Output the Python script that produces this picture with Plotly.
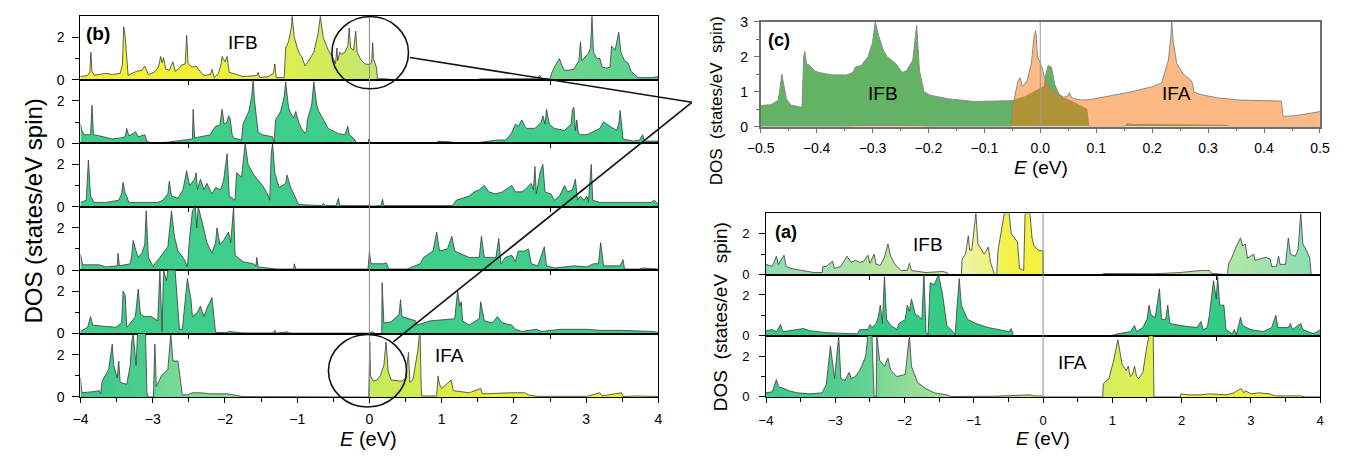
import plotly.graph_objects as go

# ---------------- data (E in eV, DOS in states/eV spin) ----------------
# panel (b): six stacked layers, top (IFB) to bottom (IFA)
B1 = [(-4.00,0.15),(-3.90,0.2),(-3.87,0.35),(-3.855,1.3),(-3.84,0.4),(-3.81,0.22),(-3.74,0.25),(-3.65,0.3),(-3.56,0.25),(-3.45,0.3),(-3.42,0.7),(-3.40,2.5),(-3.38,2.0),(-3.36,1.2),(-3.34,0.2),(-3.29,0.3),(-3.22,0.4),(-3.15,0.45),(-3.11,0.65),(-3.06,0.25),(-2.98,0.35),(-2.92,0.6),(-2.89,1.1),(-2.87,0.8),(-2.85,1.05),(-2.82,0.5),(-2.77,0.45),(-2.72,0.85),(-2.69,0.4),(-2.63,0.55),(-2.60,0.7),(-2.55,0.75),(-2.53,2.1),(-2.51,0.75),(-2.45,0.6),(-2.40,0.65),(-2.36,0.45),(-2.31,0.25),(-2.27,0.2),(-2.20,0.25),(-2.18,0.5),(-2.15,0.1),(-2.09,0.3),(-2.05,0.8),(-2.04,1.1),(-2.00,0.85),(-1.97,1.1),(-1.94,0.35),(-1.84,0.25),(-1.75,0.15),(-1.56,0.2),(-1.54,0.35),(-1.52,0.1),(-1.40,0.15),(-1.33,0.3),(-1.31,0.75),(-1.29,0.1),(-1.18,0.1),(-1.16,1.5),(-1.12,1.8),(-1.08,2.5),(-1.07,3.0),(-1.04,2.0),(-0.98,1.3),(-0.94,1.1),(-0.89,0.65),(-0.86,0.8),(-0.77,1.3),(-0.71,2.2),(-0.68,3.0),(-0.64,2.0),(-0.57,1.4),(-0.50,1.0),(-0.47,0.75),(-0.45,1.5),(-0.44,0.9),(-0.41,1.3),(-0.39,1.2),(-0.34,1.3),(-0.30,1.6),(-0.28,2.45),(-0.26,1.5),(-0.22,1.4),(-0.19,2.3),(-0.17,1.3),(-0.12,0.95),(-0.06,0.75),(0.00,0.72),(0.03,0.8),(0.045,1.75),(0.055,1.0),(0.08,0.7),(0.10,0.55),(0.11,0.05),(0.20,0.05),(0.34,0.0),(1.50,0.0),(1.52,0.04),(2.30,0.05),(2.36,0.2),(2.38,0.05),(2.50,0.05),(2.52,0.3),(2.56,0.6),(2.60,0.8),(2.63,1.0),(2.66,0.7),(2.70,0.45),(2.76,0.45),(2.83,0.5),(2.90,0.9),(2.92,1.8),(2.94,0.9),(2.99,1.1),(3.03,1.25),(3.06,1.5),(3.08,3.0),(3.10,1.3),(3.15,1.0),(3.19,1.0),(3.22,0.6),(3.28,0.55),(3.33,0.6),(3.35,1.6),(3.40,1.4),(3.45,2.25),(3.48,1.3),(3.53,0.9),(3.58,0.8),(3.62,0.4),(3.67,0.25),(3.72,0.1),(3.92,0.1),(4.00,0.15)]
B2 = [(-4.00,0.9),(-3.98,0.6),(-3.95,0.4),(-3.86,0.4),(-3.84,1.8),(-3.82,0.4),(-3.74,0.35),(-3.56,0.2),(-3.45,0.25),(-3.38,0.3),(-3.36,0.7),(-3.33,0.35),(-3.27,0.45),(-3.24,0.55),(-3.20,0.3),(-3.11,0.4),(-3.08,0.1),(-3.02,0.0),(-2.79,0.05),(-2.56,0.15),(-2.45,0.2),(-2.44,1.6),(-2.42,0.25),(-2.20,0.4),(-2.18,0.55),(-2.13,0.8),(-2.07,0.85),(-2.04,1.6),(-2.01,0.9),(-1.97,1.0),(-1.95,1.3),(-1.93,1.2),(-1.90,0.4),(-1.88,0.25),(-1.77,0.15),(-1.75,0.9),(-1.67,1.5),(-1.63,2.2),(-1.61,3.0),(-1.59,2.0),(-1.54,0.5),(-1.48,0.4),(-1.34,0.3),(-1.32,0.0),(-1.30,1.1),(-1.23,1.5),(-1.18,2.2),(-1.16,2.9),(-1.12,1.7),(-1.09,1.4),(-1.05,1.2),(-1.02,1.5),(-0.98,1.0),(-0.94,0.7),(-0.89,0.45),(-0.87,0.6),(-0.86,1.1),(-0.80,1.8),(-0.77,2.9),(-0.73,1.8),(-0.70,1.5),(-0.57,0.7),(-0.43,0.45),(-0.34,0.4),(-0.30,0.8),(-0.28,0.4),(-0.21,0.2),(-0.18,0.0),(-0.02,0.0),(-0.01,0.2),(0.01,0.05),(0.02,0.0),(0.93,0.0),(0.95,0.1),(1.15,0.05),(1.20,0.0),(1.52,0.0),(1.54,0.05),(1.77,0.15),(1.88,0.15),(1.93,0.3),(1.97,0.5),(2.02,0.9),(2.06,0.8),(2.11,1.1),(2.15,0.8),(2.18,0.7),(2.29,0.7),(2.38,1.0),(2.40,1.3),(2.43,0.9),(2.45,1.6),(2.49,0.9),(2.56,0.7),(2.70,0.6),(2.79,0.9),(2.81,1.6),(2.83,1.7),(2.85,0.6),(2.87,1.1),(2.89,0.5),(2.92,0.4),(3.01,0.4),(3.10,0.55),(3.19,0.7),(3.22,0.9),(3.24,1.0),(3.33,0.8),(3.42,0.6),(3.45,0.9),(3.47,1.55),(3.51,0.2),(3.65,0.1),(3.74,0.15),(3.78,0.4),(3.81,0.1),(4.00,0.1)]
B3 = [(-4.00,0.2),(-3.92,0.3),(-3.89,2.2),(-3.86,0.5),(-3.81,0.2),(-3.65,0.2),(-3.47,0.3),(-3.43,0.6),(-3.41,1.15),(-3.38,0.6),(-3.36,0.5),(-3.33,0.2),(-3.11,0.2),(-2.93,0.2),(-2.86,0.3),(-2.79,0.6),(-2.77,1.2),(-2.74,0.5),(-2.65,0.4),(-2.58,0.8),(-2.53,1.7),(-2.49,1.0),(-2.42,1.3),(-2.40,1.6),(-2.38,0.8),(-2.34,1.3),(-2.29,0.8),(-2.25,1.1),(-2.18,0.6),(-2.13,0.9),(-2.06,0.8),(-2.02,1.2),(-1.97,2.5),(-1.94,0.5),(-1.86,0.3),(-1.84,1.6),(-1.77,1.4),(-1.74,2.2),(-1.72,3.0),(-1.68,2.0),(-1.60,1.5),(-1.48,1.0),(-1.41,0.6),(-1.38,0.3),(-1.36,2.5),(-1.34,3.0),(-1.31,1.6),(-1.25,0.9),(-1.16,1.1),(-1.14,1.5),(-1.09,0.9),(-1.02,0.4),(-0.98,0.1),(-0.66,0.05),(-0.64,0.15),(-0.61,0.05),(-0.46,0.05),(-0.43,0.4),(-0.41,0.05),(-0.02,0.05),(0.00,0.1),(0.02,0.02),(0.16,0.05),(0.18,0.35),(0.20,0.05),(1.15,0.05),(1.20,0.3),(1.38,0.5),(1.45,0.7),(1.52,0.8),(1.59,1.0),(1.65,0.7),(1.75,0.6),(1.84,0.7),(1.97,1.0),(2.02,0.7),(2.11,0.7),(2.15,0.8),(2.24,1.1),(2.27,0.8),(2.29,1.9),(2.31,0.6),(2.36,1.6),(2.40,2.0),(2.43,0.7),(2.51,0.6),(2.56,0.3),(2.63,0.5),(2.70,1.0),(2.74,0.7),(2.81,0.8),(2.85,1.3),(2.88,0.3),(2.92,0.5),(2.97,0.3),(3.01,0.5),(3.03,0.2),(3.07,2.0),(3.09,0.3),(3.19,0.2),(3.40,0.2),(3.65,0.2),(3.90,0.2),(3.94,0.3),(4.00,0.1)]
B4 = [(-4.00,0.75),(-3.97,0.25),(-3.74,0.25),(-3.65,0.15),(-3.49,0.2),(-3.48,0.8),(-3.46,0.2),(-3.31,0.3),(-3.29,0.7),(-3.27,1.4),(-3.23,0.9),(-3.20,0.6),(-3.15,0.8),(-3.11,1.2),(-3.09,2.8),(-3.06,0.6),(-2.99,0.15),(-2.97,0.3),(-2.90,0.6),(-2.79,1.1),(-2.74,2.8),(-2.70,1.6),(-2.65,0.9),(-2.56,0.5),(-2.52,0.15),(-2.49,1.5),(-2.45,2.8),(-2.41,3.0),(-2.39,2.0),(-2.37,3.0),(-2.31,2.2),(-2.25,1.3),(-2.18,0.8),(-2.13,1.3),(-2.11,2.0),(-2.07,1.2),(-2.02,1.4),(-1.95,1.8),(-1.92,1.3),(-1.88,3.0),(-1.86,0.7),(-1.75,0.4),(-1.61,0.3),(-1.57,0.2),(-1.56,0.6),(-1.54,0.15),(-1.29,0.05),(-1.05,0.05),(-1.04,0.3),(-1.02,0.05),(-0.02,0.05),(0.00,0.9),(0.02,0.3),(0.12,0.3),(0.20,0.3),(0.23,0.35),(0.27,0.05),(0.52,0.05),(0.70,0.3),(0.75,0.6),(0.88,0.9),(0.93,1.8),(0.97,0.9),(1.08,1.0),(1.14,1.6),(1.18,0.9),(1.38,0.6),(1.52,0.6),(1.55,1.6),(1.59,0.6),(1.75,0.6),(1.79,1.5),(1.82,0.3),(1.88,0.6),(1.97,0.7),(2.02,0.4),(2.06,0.9),(2.15,0.9),(2.20,1.0),(2.24,0.3),(2.33,0.2),(2.42,1.1),(2.45,0.2),(2.56,0.1),(2.83,0.2),(3.01,0.15),(3.10,0.3),(3.17,0.3),(3.20,1.3),(3.24,0.2),(3.47,0.2),(3.51,0.5),(3.53,0.05),(3.74,0.05),(3.78,0.1),(4.00,0.05)]
B5 = [(-4.00,0.1),(-3.90,0.3),(-3.86,0.8),(-3.83,0.4),(-3.70,0.35),(-3.51,0.3),(-3.43,0.5),(-3.41,2.0),(-3.38,1.8),(-3.36,0.3),(-3.33,0.4),(-3.24,0.8),(-3.20,2.1),(-3.17,0.9),(-3.11,0.8),(-3.02,0.8),(-2.93,0.6),(-2.90,3.0),(-2.87,0.1),(-2.85,3.0),(-2.81,2.5),(-2.79,3.0),(-2.69,3.0),(-2.65,0.9),(-2.63,0.2),(-2.59,0.2),(-2.56,1.3),(-2.52,2.6),(-2.47,1.6),(-2.45,0.8),(-2.38,1.0),(-2.34,1.3),(-2.29,0.8),(-2.25,1.2),(-2.18,1.7),(-2.15,0.8),(-2.13,0.05),(-1.97,0.05),(-1.95,0.1),(-1.75,0.03),(-1.33,0.03),(-1.31,0.15),(-1.29,0.02),(-1.14,0.08),(-1.10,0.02),(0.00,0.02),(0.04,0.08),(0.08,0.0),(0.17,0.0),(0.175,2.4),(0.20,0.5),(0.30,0.55),(0.41,0.9),(0.43,1.6),(0.45,0.8),(0.64,0.6),(0.66,0.4),(0.84,0.6),(1.18,0.7),(1.22,2.0),(1.25,1.3),(1.27,1.5),(1.29,0.6),(1.38,0.4),(1.52,0.7),(1.54,1.5),(1.59,0.6),(1.70,0.5),(1.77,0.8),(1.84,0.5),(1.97,0.4),(2.02,0.2),(2.11,0.1),(2.31,0.2),(2.38,0.1),(2.65,0.2),(2.74,0.2),(3.01,0.2),(3.19,0.15),(3.47,0.15),(3.92,0.1),(4.00,0.05)]
B6 = [(-4.00,0.9),(-3.98,0.2),(-3.83,0.25),(-3.74,0.3),(-3.72,0.15),(-3.70,0.75),(-3.61,1.3),(-3.56,2.5),(-3.54,1.5),(-3.49,0.9),(-3.47,1.7),(-3.45,0.7),(-3.36,0.6),(-3.31,1.5),(-3.29,2.6),(-3.27,3.0),(-3.23,1.5),(-3.21,3.0),(-3.10,3.0),(-3.08,0.2),(-3.06,0.0),(-2.99,0.0),(-2.97,2.5),(-2.95,0.5),(-2.88,1.0),(-2.79,1.3),(-2.75,3.0),(-2.72,1.7),(-2.65,1.7),(-2.63,1.1),(-2.59,0.1),(-2.52,0.1),(-2.45,0.2),(-2.34,0.2),(-2.20,0.15),(-1.97,0.15),(-1.88,0.1),(-1.75,0.02),(-0.01,0.0),(0.00,1.3),(0.005,2.6),(0.015,1.0),(0.05,0.75),(0.10,0.8),(0.15,1.0),(0.20,1.5),(0.23,2.6),(0.26,1.2),(0.30,0.8),(0.45,0.75),(0.50,0.9),(0.54,2.1),(0.56,0.7),(0.60,0.8),(0.64,1.5),(0.67,2.2),(0.69,2.9),(0.70,3.0),(0.72,0.05),(0.93,0.05),(0.95,1.0),(0.97,0.6),(1.00,0.4),(1.13,0.8),(1.16,0.3),(1.38,0.2),(1.54,0.4),(1.56,0.15),(1.97,0.2),(2.15,0.2),(2.20,0.1),(2.31,0.03),(3.01,0.03),(3.19,0.2),(3.22,0.05),(3.49,0.2),(3.51,0.02),(3.70,0.05),(4.00,0.02)]

# panel (a): three layers
A1 = [(-4.00,0.5),(-3.91,0.4),(-3.85,0.9),(-3.82,0.5),(-3.74,0.95),(-3.71,0.4),(-3.64,0.3),(-3.49,0.2),(-3.31,0.1),(-3.19,0.1),(-3.18,0.4),(-3.13,0.4),(-3.07,0.55),(-3.04,0.65),(-3.01,0.3),(-2.92,0.4),(-2.83,0.9),(-2.77,0.6),(-2.71,0.7),(-2.65,0.6),(-2.59,0.65),(-2.53,0.95),(-2.50,0.55),(-2.44,1.0),(-2.41,0.5),(-2.35,0.45),(-2.29,0.85),(-2.24,1.5),(-2.20,0.9),(-2.14,0.5),(-2.05,0.2),(-1.96,0.2),(-1.93,0.55),(-1.90,0.2),(-1.69,0.1),(-1.45,0.15),(-1.39,0.1),(-1.36,0.0),(-1.18,0.0),(-1.17,0.75),(-1.12,1.0),(-1.08,1.9),(-1.06,1.2),(-1.03,1.2),(-0.97,3.0),(-0.94,1.5),(-0.85,1.0),(-0.79,1.35),(-0.76,0.6),(-0.70,0.0),(-0.67,0.0),(-0.65,1.2),(-0.61,2.0),(-0.56,3.0),(-0.49,3.0),(-0.46,2.0),(-0.37,1.6),(-0.34,0.3),(-0.28,0.2),(-0.26,3.0),(-0.19,3.0),(-0.16,1.8),(-0.13,1.4),(-0.07,1.2),(0.00,1.15),(0.001,0.0),(0.86,0.0),(0.87,0.05),(1.60,0.04),(1.98,0.1),(2.28,0.2),(2.40,0.2),(2.43,0.05),(2.66,0.0),(2.68,0.55),(2.72,0.8),(2.78,1.3),(2.85,1.8),(2.88,1.4),(2.92,1.5),(2.95,0.8),(3.04,1.0),(3.06,0.7),(3.15,0.8),(3.22,0.85),(3.28,0.75),(3.30,0.4),(3.37,0.4),(3.40,0.9),(3.42,0.5),(3.50,0.5),(3.54,1.8),(3.57,1.0),(3.64,0.9),(3.68,1.2),(3.72,3.0),(3.75,1.5),(3.80,1.2),(3.85,0.8),(3.87,0.0),(4.00,0.0)]
A2 = [(-4.00,0.25),(-3.91,0.3),(-3.85,0.2),(-3.79,0.55),(-3.76,0.2),(-3.55,0.3),(-3.46,0.35),(-3.37,0.25),(-3.13,0.15),(-2.77,0.1),(-2.68,0.1),(-2.65,0.3),(-2.53,0.3),(-2.50,0.55),(-2.47,0.4),(-2.41,0.6),(-2.38,0.9),(-2.35,1.5),(-2.32,0.6),(-2.29,2.9),(-2.26,0.8),(-2.20,0.5),(-2.11,0.3),(-2.08,0.6),(-1.99,0.8),(-1.96,1.5),(-1.93,1.2),(-1.90,1.8),(-1.84,1.0),(-1.81,1.0),(-1.75,0.8),(-1.72,3.0),(-1.69,0.2),(-1.66,0.05),(-1.63,2.6),(-1.57,2.5),(-1.51,3.0),(-1.45,2.0),(-1.39,0.5),(-1.30,0.2),(-1.27,0.05),(-1.24,1.5),(-1.21,2.8),(-1.18,1.5),(-1.09,0.8),(-0.97,0.6),(-0.79,0.4),(-0.49,0.2),(-0.46,0.35),(-0.43,0.0),(0.98,0.0),(1.08,0.1),(1.26,0.2),(1.32,0.5),(1.35,0.2),(1.44,0.4),(1.50,0.8),(1.53,1.5),(1.56,1.0),(1.62,0.9),(1.68,2.3),(1.71,0.8),(1.77,0.8),(1.80,1.5),(1.83,0.6),(1.98,0.5),(2.22,0.4),(2.28,0.7),(2.31,0.3),(2.37,0.4),(2.40,1.0),(2.46,2.7),(2.50,1.8),(2.52,2.9),(2.55,1.5),(2.61,1.5),(2.64,0.3),(2.73,0.1),(2.76,0.3),(2.79,0.05),(2.85,0.9),(2.88,0.5),(3.00,0.3),(3.18,0.2),(3.30,0.4),(3.36,1.0),(3.39,0.4),(3.54,0.4),(3.57,0.6),(3.60,0.3),(3.72,0.6),(3.75,0.3),(3.84,0.2),(3.90,0.1),(3.96,0.2),(4.00,0.3)]
A3 = [(-4.00,0.2),(-3.91,0.25),(-3.85,0.85),(-3.82,0.5),(-3.73,0.4),(-3.67,0.3),(-3.55,0.2),(-3.37,0.15),(-3.19,0.2),(-3.13,0.6),(-3.07,2.5),(-3.01,0.9),(-2.95,3.0),(-2.92,0.9),(-2.86,0.8),(-2.80,1.2),(-2.77,0.9),(-2.71,1.0),(-2.65,1.3),(-2.62,1.5),(-2.56,2.0),(-2.53,3.0),(-2.47,3.0),(-2.44,0.05),(-2.41,0.0),(-2.40,3.0),(-2.36,1.8),(-2.29,1.5),(-2.24,1.9),(-2.20,1.3),(-2.11,1.0),(-1.99,1.1),(-1.93,3.0),(-1.90,1.5),(-1.81,0.7),(-1.69,0.4),(-1.57,0.2),(-1.39,0.1),(-1.33,0.02),(-0.73,0.03),(-0.19,0.1),(-0.13,0.05),(-0.01,0.05),(0.00,0.0),(0.86,0.0),(0.87,0.65),(0.95,0.9),(1.02,1.8),(1.08,2.8),(1.14,1.6),(1.20,1.3),(1.23,1.5),(1.26,1.0),(1.29,1.1),(1.32,1.5),(1.35,1.0),(1.38,0.9),(1.44,1.2),(1.50,2.5),(1.53,3.0),(1.59,3.0),(1.60,0.0),(1.98,0.0),(1.99,0.15),(2.10,0.1),(2.28,0.1),(2.40,0.15),(2.64,0.1),(2.76,0.2),(2.82,0.35),(2.86,0.4),(2.90,0.2),(2.92,0.3),(3.00,0.15),(3.12,0.2),(3.27,0.15),(3.30,0.1),(3.36,0.05),(3.72,0.05),(3.78,0.0),(4.00,0.0)]

# panel (c): zoom around E = 0
C_IFB = [(-0.500,0.60),(-0.481,0.63),(-0.469,0.75),(-0.466,1.0),(-0.462,1.5),(-0.458,1.1),(-0.454,0.8),(-0.446,0.62),(-0.426,0.55),(-0.423,2.0),(-0.421,2.15),(-0.418,1.8),(-0.412,1.75),(-0.404,1.6),(-0.396,1.55),(-0.373,1.48),(-0.346,1.48),(-0.335,1.55),(-0.331,1.7),(-0.320,1.75),(-0.308,2.0),(-0.300,2.4),(-0.295,3.0),(-0.289,2.6),(-0.281,2.2),(-0.274,2.0),(-0.258,1.8),(-0.247,1.55),(-0.239,1.6),(-0.228,1.9),(-0.221,2.9),(-0.216,1.6),(-0.208,1.0),(-0.197,0.9),(-0.166,0.8),(-0.120,0.72),(-0.051,0.74),(-0.028,0.85),(-0.005,1.05),(0.007,1.15),(0.010,1.5),(0.014,1.75),(0.020,1.7),(0.026,1.2),(0.033,0.95),(0.041,0.82),(0.056,0.72),(0.072,0.6),(0.083,0.5),(0.087,0.0),(0.150,0.0),(0.155,0.08),(0.170,0.06),(0.250,0.05),(0.330,0.04),(0.340,0.0),(0.500,0.0)]
C_IFA = [(-0.500,0.0),(-0.350,0.0),(-0.320,0.04),(-0.270,0.05),(-0.220,0.03),(-0.190,0.0),(-0.052,0.0),(-0.050,0.6),(-0.047,0.75),(-0.040,1.3),(-0.036,1.4),(-0.032,1.15),(-0.024,1.3),(-0.016,1.8),(-0.011,2.6),(-0.008,2.75),(-0.005,2.0),(0.003,1.7),(0.006,1.5),(0.010,1.3),(0.018,1.1),(0.029,0.95),(0.041,0.85),(0.048,0.85),(0.052,0.97),(0.055,0.85),(0.060,0.8),(0.072,0.76),(0.087,0.77),(0.102,0.82),(0.125,0.88),(0.164,1.0),(0.202,1.15),(0.217,1.25),(0.222,1.5),(0.229,1.9),(0.233,2.5),(0.235,3.0),(0.238,2.4),(0.244,1.8),(0.256,1.5),(0.268,1.35),(0.272,1.25),(0.275,0.98),(0.287,0.92),(0.317,0.82),(0.356,0.76),(0.394,0.74),(0.431,0.73),(0.434,0.3),(0.448,0.3),(0.471,0.35),(0.500,0.43)]

X_TICKS = [-4, -3, -2, -1, 0, 1, 2, 3, 4]
X_TICK_TEXT = ["\u22124", "\u22123", "\u22122", "\u22121", "0", "1", "2", "3", "4"]
C_TICKS = [-0.5, -0.4, -0.3, -0.2, -0.1, 0.0, 0.1, 0.2, 0.3, 0.4, 0.5]
C_TICK_TEXT = ["\u22120.5", "\u22120.4", "\u22120.3", "\u22120.2", "\u22120.1", "0.0", "0.1", "0.2", "0.3", "0.4", "0.5"]

# ---------------- layout helpers ----------------
# the page body keeps its default 8 px margin, so the figure is 16 px smaller than the window
OFF = 8
W, H = 1364 - 2 * OFF, 464 - 2 * OFF
FONT = "Liberation Sans, Arial, Helvetica, sans-serif"
def px(p): return (p - OFF) / W
def py(p): return 1 - (p - OFF) / H

GREEN = "#3ecd8a"
LINE = dict(color="#3a3a3a", width=0.8)

def grad(stops, lo=-4.0, hi=4.0):
    return dict(type="horizontal", start=lo, stop=hi,
                colorscale=[[(e - lo) / (hi - lo), c] for e, c in stops])

fig = go.Figure()
layout = dict(width=W, height=H, margin=dict(l=0, r=0, t=0, b=0),
              paper_bgcolor="white", plot_bgcolor="white", showlegend=False,
              font=dict(family=FONT, color="black"))

def add_axes(n, xdom, ydom, xr, yr, xkw, ykw):
    xa = dict(domain=xdom, range=xr, anchor=f"y{n}", showgrid=False, zeroline=False,
              showline=True, mirror=True, linecolor="black", linewidth=1,
              ticks="outside", tickcolor="black", tickwidth=1, fixedrange=True,
              ticklabeloverflow="allow",
              tickfont=dict(size=14, family=FONT, color="black"))
    ya = dict(domain=ydom, range=yr, anchor=f"x{n}", showgrid=False, zeroline=False,
              showline=True, mirror=True, linecolor="black", linewidth=1,
              ticks="outside", tickcolor="black", tickwidth=1, fixedrange=True,
              ticklabeloverflow="allow",
              tickfont=dict(size=14, family=FONT, color="black"))
    xa.update(xkw); ya.update(ykw)
    key = "" if n == 1 else str(n)
    layout["xaxis" + key] = xa
    layout["yaxis" + key] = ya

def add_trace(n, pts, **kw):
    key = "" if n == 1 else str(n)
    fig.add_trace(go.Scatter(x=[p[0] for p in pts], y=[p[1] for p in pts],
                             xaxis="x" + key, yaxis="y" + key, mode="lines",
                             fill="tozeroy", hoverinfo="skip", **kw))

# ---------------- panel (b) ----------------
B_LEFT, B_RIGHT, B_TOP, B_BOT = 67.5, 656.0, 8.3, 403.1
rh = (B_BOT - B_TOP) / 6
b_rows = [B1, B2, B3, B4, B5, B6]
b_fill = [
    dict(fillgradient=grad([(-4, "#f4f230"), (-2.0, "#eef038"), (-1.1, "#dcee50"),
                            (-0.3, "#c8ea68"), (0.2, "#bfe86e"), (2.5, "#6fd690"), (4, "#4fd08d")])),
    dict(fillcolor=GREEN), dict(fillcolor=GREEN), dict(fillcolor=GREEN), dict(fillcolor=GREEN),
    dict(fillgradient=grad([(-4, "#3cc98a"), (-3.1, "#4ccd8d"), (-2.95, "#6cd896"), (-2.6, "#7cdb95"),
                            (-0.05, "#c6eb5e"), (0.7, "#d2ee4e"), (1.5, "#eaf034"), (4, "#eeef2c")])),
]
for i in range(6):
    n = i + 1
    top = B_TOP + i * rh
    bot = top + rh
    if i < 5:
        xkw = dict(tickvals=[-2.5, 2.5], showticklabels=False, ticklen=4)
    else:
        xkw = dict(tickvals=X_TICKS, ticktext=X_TICK_TEXT, ticklen=5, ticklabelstandoff=4,
                   minor=dict(dtick=0.5, tick0=0, ticklen=4, ticks="outside", tickcolor="black"))
    ykw = dict(tickvals=[0, 2], ticktext=["0", "2"], ticklen=7, ticklabelstandoff=5,
               minor=dict(tickvals=[1], ticklen=4, ticks="outside", tickcolor="black"))
    add_axes(n, [px(B_LEFT), px(B_RIGHT)], [py(bot), py(top)], [-4, 4], [0, 3], xkw, ykw)
    add_trace(n, b_rows[i], line=LINE, **b_fill[i])

# ---------------- panel (c) ----------------
C_LEFT, C_RIGHT, C_TOP, C_BOT = 760.0, 1329.5, 14.0, 122.7
CGRAY = "#6e6e6e"
add_axes(7, [px(C_LEFT), px(C_RIGHT)], [py(C_BOT), py(C_TOP)], [-0.5, 0.5], [0, 3],
         dict(tickvals=C_TICKS, ticktext=C_TICK_TEXT, ticklen=5, ticklabelstandoff=3,
              linecolor=CGRAY, linewidth=1.5, tickcolor=CGRAY, tickfont=dict(size=14, family=FONT),
              minor=dict(dtick=0.05, tick0=0, ticklen=3, ticks="outside", tickcolor=CGRAY)),
         dict(tickvals=[0, 1, 2, 3], ticklen=5, ticklabelstandoff=3,
              linecolor=CGRAY, linewidth=1.5, tickcolor=CGRAY, tickfont=dict(size=14, family=FONT),
              minor=dict(dtick=0.5, tick0=0, ticklen=3, ticks="outside", tickcolor=CGRAY)))
add_trace(7, C_IFB, line=dict(color="#8a8a8a", width=1), fillcolor="rgb(100,178,100)")
add_trace(7, C_IFA, line=dict(color="#8a8a8a", width=1), fillcolor="rgba(250,115,10,0.5)")

# ---------------- panel (a) ----------------
A_LEFT, A_RIGHT, A_TOP, A_BOT = 765.5, 1329.7, 212.7, 403.0
ah = (A_BOT - A_TOP) / 3
a_rows = [A1, A2, A3]
a_fill = [
    dict(fillgradient=grad([(-4, "#8cdcb4"), (-3, "#a4e2aa"), (-2.2, "#c0e79c"), (-1.4, "#d6ec92"),
                            (-1.17, "#eef4a4"), (-0.7, "#eef270"), (-0.62, "#f2f24c"), (0, "#f4f23a"),
                            (0.9, "#e4ee76"), (2.0, "#c6e89c"), (2.7, "#b0e6a8"), (4, "#80dcb8")])),
    dict(fillcolor="#34cb87"),
    dict(fillgradient=grad([(-4, "#3cc98a"), (-3, "#52ce90"), (-2.45, "#68d494"), (-2.35, "#7ed996"),
                            (-1.9, "#94dd98"), (-1.3, "#a8e298"), (0.86, "#d4ee60"), (1.6, "#e4f04c"),
                            (2.0, "#f0f040"), (4, "#f0f040")])),
]
for i in range(3):
    n = 8 + i
    top = A_TOP + i * ah
    bot = top + ah
    if i < 2:
        xkw = dict(tickvals=[-2.5, 2.5], showticklabels=False, ticklen=4)
    else:
        xkw = dict(tickvals=X_TICKS, ticktext=X_TICK_TEXT, ticklen=5, ticklabelstandoff=7,
                   tickfont=dict(size=13, family=FONT),
                   minor=dict(dtick=0.5, tick0=0, ticklen=4, ticks="outside", tickcolor="black"))
    ykw = dict(tickvals=[0, 2], ticktext=["0", "2"], ticklen=6, ticklabelstandoff=7,
               tickfont=dict(size=13, family=FONT),
               minor=dict(tickvals=[1], ticklen=4, ticks="outside", tickcolor="black"))
    add_axes(n, [px(A_LEFT), px(A_RIGHT)], [py(bot), py(top)], [-4, 4], [0, 3], xkw, ykw)
    add_trace(n, a_rows[i], line=LINE, **a_fill[i])

# ---------------- shapes ----------------
shapes = [
    dict(type="line", xref="x", yref="paper", x0=0, x1=0, y0=py(B_BOT), y1=py(B_TOP),
         line=dict(color="#8c8c8c", width=1)),
    dict(type="line", xref="x7", yref="y7", x0=0, x1=0, y0=0, y1=3,
         line=dict(color="#9a9a9a", width=1)),
    dict(type="line", xref="x8", yref="paper", x0=0, x1=0, y0=py(A_BOT), y1=py(A_TOP),
         line=dict(color="#8c8c8c", width=1)),
    dict(type="circle", xref="paper", yref="paper", x0=px(323.5), x1=px(401.5),
         y0=py(83.5), y1=py(8.5), line=dict(color="#111111", width=1.6)),
    dict(type="circle", xref="paper", yref="paper", x0=px(320.0), x1=px(399.5),
         y0=py(413.5), y1=py(338.3), line=dict(color="#111111", width=1.6)),
    dict(type="line", xref="paper", yref="paper", x0=px(403), y0=py(51), x1=px(690), y1=py(97.5),
         line=dict(color="#111111", width=1.6)),
    dict(type="line", xref="paper", yref="paper", x0=px(386), y0=py(346), x1=px(690), y1=py(97.5),
         line=dict(color="#111111", width=1.6)),
]
layout["shapes"] = shapes

def ann(text, x, y, size, angle=0):
    return dict(text=text, x=px(x), y=py(y), xref="paper", yref="paper", showarrow=False,
                xanchor="center", yanchor="middle", textangle=angle,
                font=dict(size=size, family=FONT, color="black"))

layout["annotations"] = [
    ann("<b>(b)</b>", 85, 26, 19),
    ann("IFB", 233, 35, 19),
    ann("IFA", 443, 360, 19),
    ann("DOS (states/eV spin)", 20, 210, 24, -90),
    ann("<i>E</i> (eV)", 361, 447, 20),
    ann("<b>(c)</b>", 779, 32.5, 18),
    ann("IFB", 885, 88, 19),
    ann("IFA", 1183, 88, 19),
    ann("DOS\u00a0 (states/eV\u00a0 spin)", 715, 96, 17, -90),
    ann("<i>E</i> (eV)", 1045, 165, 19),
    ann("<b>(a)</b>", 785.5, 231.5, 18),
    ann("IFB", 930, 245, 19),
    ann("IFA", 1078, 367, 19),
    ann("DOS\u00a0 (states/eV\u00a0 spin)", 720, 320, 19, -90),
    ann("<i>E</i> (eV)", 1047, 446.5, 19),
]

fig.update_layout(**layout)
fig.write_html("out.html", config=dict(displayModeBar=False))
